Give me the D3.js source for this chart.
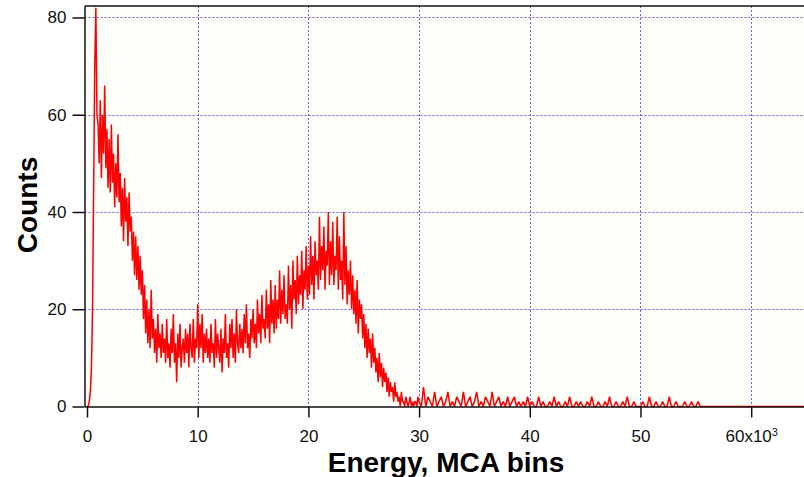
<html>
  <head>
    <title>MCA spectrum</title>
    <script type="text/javascript" src="https://cdn.jsdelivr.net/npm/d3@7"></script>
    <style>
      body { margin: 0; background: white; }
      svg { display: block; font-family: "Liberation Sans", Arial, sans-serif; }
    </style>
  </head>

  <body>
    <script type="text/javascript">
      // Width og height
      const w = 804;
      const h = 477;

      // Data: counts, ét tal for hver 100 bins fra 0 til 29900
      const mainStep = 100;
      const mainCounts = [
        0, 0, 1, 3, 8, 20, 45, 70, 82, 60,
        58, 50, 63, 47, 60, 52, 66, 49, 57, 45,
        55, 44, 58, 46, 52, 41, 50, 43, 56, 42,
        48, 37, 45, 34, 47, 38, 43, 33, 44, 36,
        39, 30, 36, 27, 35, 26, 33, 24, 31, 23,
        28, 18, 25, 15, 22, 13, 20, 12, 24, 14,
        18, 11, 16, 9, 19, 12, 15, 10, 17, 11,
        14, 9, 18, 10, 13, 8, 16, 11, 19, 9,
        13, 5, 15, 10, 17, 8, 12, 14, 9, 16,
        11, 15, 8, 17, 12, 10, 18, 9, 14, 12,
        21, 10, 17, 12, 19, 9, 15, 11, 16, 10,
        14, 9, 17, 11, 13, 8, 18, 10, 15, 12,
        9, 16, 7, 14, 11, 19, 10, 13, 8, 17,
        12, 18, 10, 15, 9, 20, 13, 11, 17, 12,
        16, 11, 19, 13, 21, 12, 15, 10, 18, 14,
        20, 13, 17, 12, 22, 15, 19, 13, 23, 16,
        18, 14, 24, 16, 21, 13, 26, 17, 22, 15,
        25, 16, 22, 18, 28, 17, 24, 19, 27, 18,
        21, 17, 29, 20, 25, 16, 30, 22, 26, 19,
        31, 21, 27, 23, 32, 20, 28, 24, 33, 22,
        29, 23, 35, 25, 31, 22, 34, 27, 30, 24,
        39, 26, 33, 28, 37, 24, 32, 29, 40, 25,
        34, 27, 38, 25, 31, 28, 39, 24, 35, 26,
        30, 22, 40, 25, 33, 21, 28, 23, 30, 20,
        27, 19, 24, 17, 26, 15, 22, 18, 21, 14,
        19, 12, 17, 10, 16, 11, 14, 8, 15, 9,
        12, 7, 10, 5, 11, 6, 9, 4, 8, 5,
        7, 3, 6, 2, 5, 3, 4, 1, 5, 2,
        3, 1, 2, 0, 3, 1, 1, 0, 2, 1,
        0, 1, 2, 0, 1, 0, 1, 1, 0, 2
      ];

      // Halen: ét tal for hver 200 bins fra 30000 til 56000
      const tailStart = 30000;
      const tailStep = 200;
      const tailCounts = [
        1, 0, 4, 0, 2, 1, 0, 3, 0, 1,
        2, 0, 1, 3, 0, 1, 0, 2, 1, 0,
        3, 0, 1, 2, 0, 1, 3, 0, 1, 0,
        2, 1, 0, 3, 0, 1, 2, 0, 1, 0,
        2, 0, 1, 2, 0, 1, 0, 1, 0, 2,
        0, 1, 0, 0, 2, 0, 1, 0, 0, 1,
        0, 2, 0, 1, 0, 0, 1, 0, 2, 0,
        0, 1, 0, 1, 0, 0, 1, 0, 2, 0,
        0, 1, 0, 0, 1, 0, 2, 0, 0, 1,
        0, 0, 1, 0, 2, 0, 0, 1, 0, 0,
        0, 1, 0, 0, 2, 0, 0, 1, 0, 0,
        1, 0, 0, 2, 0, 0, 1, 0, 0, 0,
        1, 0, 0, 1, 0, 0, 1, 0, 0, 0,
        0
      ];

      // Akser
      const xTicks = [0, 10000, 20000, 30000, 40000, 50000, 60000];
      const yTicks = [0, 20, 40, 60, 80];
      const xDomain = [-226, 64770];
      const yDomain = [0, 82.36];

      // Saml punkterne (bin, counts)
      const spectrum = mainCounts.map((c, i) => [i * mainStep, c])
        .concat(tailCounts.map((c, i) => [tailStart + i * tailStep, c]))
        .concat([[xDomain[1], 0]]);

      // Plot område
      const pLeft = 84.5, pRight = 804, pTop = 6, pBottom = 406.5;

      const xScale = d3.scaleLinear().domain(xDomain).range([pLeft, pRight]);
      const yScale = d3.scaleLinear().domain(yDomain).range([pBottom, pTop]);

      const svg = d3.select("body")
        .append("svg")
        .attr("width", w)
        .attr("height", h);

      // Baggrund
      svg.append("rect")
        .attr("x", pLeft).attr("y", pTop)
        .attr("width", pRight - pLeft).attr("height", pBottom - pTop)
        .attr("fill", "#fffffa");

      // Gitter
      svg.append("g")
        .selectAll("line")
        .data(xTicks.filter(d => d > 0))
        .enter()
        .append("line")
        .attr("x1", d => Math.round(xScale(d)) + 0.5)
        .attr("x2", d => Math.round(xScale(d)) + 0.5)
        .attr("y1", pTop)
        .attr("y2", pBottom)
        .attr("stroke", "#6060ee")
        .attr("stroke-dasharray", "2,2");

      svg.append("g")
        .selectAll("line")
        .data(yTicks.filter(d => d > 0))
        .enter()
        .append("line")
        .attr("x1", pLeft)
        .attr("x2", pRight)
        .attr("y1", d => Math.round(yScale(d)) + 0.5)
        .attr("y2", d => Math.round(yScale(d)) + 0.5)
        .attr("stroke", "#6060ee")
        .attr("stroke-dasharray", "2,2");

      // Spektrum
      const line = d3.line()
        .x(d => xScale(d[0]))
        .y(d => yScale(d[1]));

      svg.append("path")
        .datum(spectrum)
        .attr("d", line)
        .attr("fill", "none")
        .attr("stroke", "#ff0000")
        .attr("stroke-width", 1.5)
        .attr("stroke-linejoin", "bevel");

      // Y-akse
      const yAxis = d3.axisLeft(yScale)
        .tickValues(yTicks)
        .tickSize(12)
        .tickSizeOuter(0)
        .tickPadding(6);
      const gy = svg.append("g")
        .attr("transform", "translate(" + pLeft + ",0)")
        .call(yAxis);
      gy.selectAll("text").style("font-size", "17px").attr("fill", "#111");
      gy.selectAll("line, path").attr("stroke", "#111").attr("stroke-width", 1.5);

      // X-akse
      const xAxis = d3.axisBottom(xScale)
        .tickValues(xTicks)
        .tickSize(11)
        .tickSizeOuter(0)
        .tickPadding(12)
        .tickFormat(d => d / 1000);
      const gx = svg.append("g")
        .attr("transform", "translate(0," + pBottom + ")")
        .call(xAxis);
      gx.selectAll("text").style("font-size", "17px").attr("fill", "#111");
      gx.selectAll("line, path").attr("stroke", "#111").attr("stroke-width", 1.5);
      gx.selectAll(".tick").filter(d => d === 60000).select("text")
        .text("60x10")
        .append("tspan")
        .attr("dy", "-0.5em")
        .style("font-size", "11px")
        .text("3");

      // Ramme i toppen
      svg.append("line")
        .attr("x1", pLeft).attr("x2", pRight)
        .attr("y1", pTop).attr("y2", pTop)
        .attr("stroke", "#111")
        .attr("stroke-width", 1.5);

      // Akse titler
      svg.append("text")
        .attr("transform", "translate(37,205) rotate(-90)")
        .attr("text-anchor", "middle")
        .style("font-size", "28px")
        .style("font-weight", "bold")
        .text("Counts");

      svg.append("text")
        .attr("x", 446)
        .attr("y", 472)
        .attr("text-anchor", "middle")
        .style("font-size", "28px")
        .style("font-weight", "bold")
        .text("Energy, MCA bins");
    </script>
  </body>
</html>
